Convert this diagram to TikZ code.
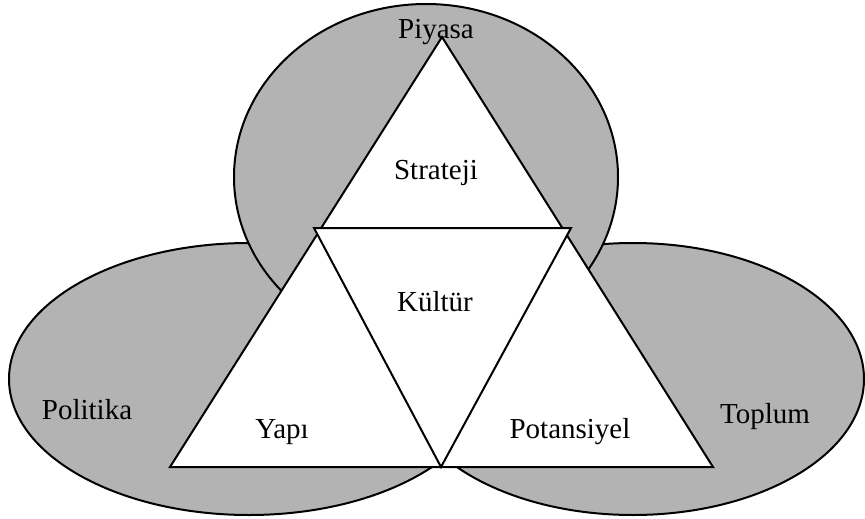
\documentclass[tikz,border=0pt]{standalone}
\usepackage{fontspec}
\setmainfont{Liberation Serif}
\definecolor{ringgray}{RGB}{179,179,179}
\begin{document}
\begin{tikzpicture}[x=1pt,y=-1pt,
  ring/.style={fill=ringgray,draw=black,line width=2pt},
  tri/.style={fill=white,draw=black,line width=2pt,line join=miter},
  lbl/.style={anchor=base,inner sep=0pt,font=\fontsize{29}{34}\selectfont}]
\useasboundingbox (0,0) rectangle (865,519);
% circles
\draw[ring] (249,379) ellipse [x radius=240,y radius=136];
\draw[ring] (633,379) ellipse [x radius=231,y radius=136];
\draw[ring] (426,177) ellipse [x radius=192,y radius=173];
% triangles
\coordinate (A) at (442,37);
\coordinate (B) at (170,467);
\coordinate (C) at (713,467);
\coordinate (D) at (314,228);
\coordinate (E) at (571,228);
\coordinate (F) at (441,467);
\draw[tri] (A) -- (B) -- (C) -- cycle;
\draw[tri] (D) -- (E) -- (F) -- cycle;
% labels
\node[lbl] (piyasa) at (436,39) {Piyasa};
\node[lbl] (strateji) at (436,179) {Strateji};
\node[lbl] (kultur) at (435,311) {Kültür};
\node[lbl] (politika) at (87,419) {Politika};
\node[lbl] (yapi) at (282,438) {Yapı};
\node[lbl] (potansiyel) at (570,438) {Potansiyel};
\node[lbl] (toplum) at (765,423) {Toplum};
\end{tikzpicture}
\end{document}
